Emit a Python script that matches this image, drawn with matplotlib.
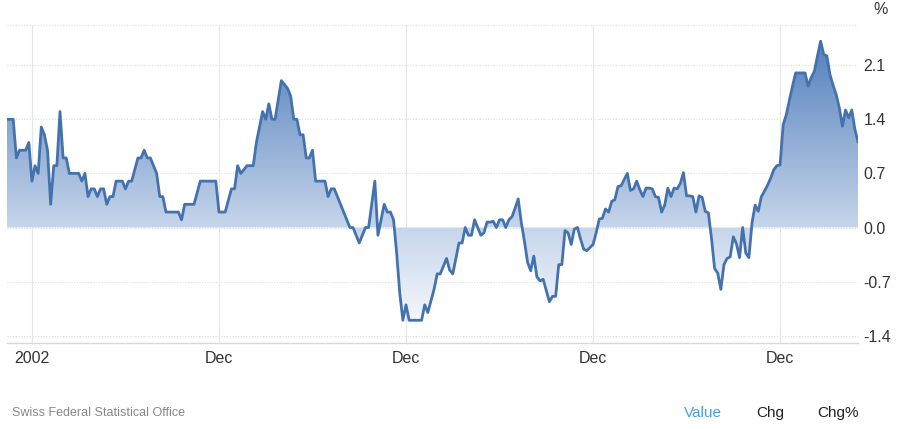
import numpy as np
import matplotlib
matplotlib.use("Agg")
import matplotlib.pyplot as plt
from matplotlib.colors import LinearSegmentedColormap
from matplotlib.patches import PathPatch
from matplotlib.path import Path

plt.rcParams['font.family'] = ['Liberation Sans', 'DejaVu Sans']

# months counted from Dec 2001 (0)
months = [-8, -6, -5, -4, -2, -1, 0, 1, 2, 3, 4, 5, 6, 7, 8, 9, 10, 11, 12, 15, 16, 17,
          18, 19, 20, 21, 22, 23, 24, 25, 26, 27, 29, 30, 31, 32, 34, 35, 36, 37, 38,
          40, 41, 42, 43, 47, 48, 49, 52, 54, 59, 60, 62, 64, 65, 66, 67, 69, 71, 72,
          73, 74, 75, 76, 77, 78, 80, 81, 82, 83, 84, 85, 86, 87, 88, 89, 90, 91, 94,
          95, 96, 97, 102, 103, 105, 107, 108, 110, 111, 113, 114, 115, 116, 117, 118,
          119, 120, 121, 125, 126, 127, 129, 130, 131, 133, 134, 135, 137, 138, 139,
          140, 141, 142, 143, 144, 145, 146, 147, 148, 149, 150, 151, 152, 153, 154,
          155, 156, 157, 158, 159, 160, 161, 162, 163, 164, 166, 167, 168, 169, 170,
          171, 172, 173, 174, 175, 176, 177, 178, 180, 181, 182, 183, 184, 185, 186,
          187, 188, 189, 190, 191, 192, 193, 194, 195, 196, 197, 198, 199, 200, 201,
          202, 203, 204, 205, 206, 207, 208, 209, 210, 211, 212, 213, 214, 215, 216,
          217, 218, 219, 220, 221, 222, 223, 224, 225, 226, 227, 228, 229, 230, 231,
          232, 233, 234, 235, 236, 237, 238, 239, 240, 241, 242, 243, 244, 245, 248,
          249, 250, 251, 252, 253, 254, 255, 256, 257, 258, 259, 260, 261, 262, 263,
          264, 265]
values = [1.4, 1.4, 0.9, 1.0, 1.0, 1.1, 0.6, 0.8, 0.7, 1.3, 1.2, 1.0, 0.3, 0.8, 0.8,
          1.5, 0.9, 0.9, 0.7, 0.7, 0.6, 0.7, 0.4, 0.5, 0.5, 0.4, 0.5, 0.5, 0.3, 0.4,
          0.4, 0.6, 0.6, 0.5, 0.6, 0.6, 0.9, 0.9, 1.0, 0.9, 0.9, 0.7, 0.4, 0.4, 0.2,
          0.2, 0.1, 0.3, 0.3, 0.6, 0.6, 0.2, 0.2, 0.5, 0.5, 0.8, 0.7, 0.8, 0.8, 1.1,
          1.3, 1.5, 1.4, 1.6, 1.4, 1.4, 1.9, 1.85, 1.8, 1.7, 1.4, 1.4, 1.2, 1.2, 0.9,
          0.9, 1.0, 0.6, 0.6, 0.4, 0.5, 0.5, 0.0, 0.0, -0.2, 0.0, 0.0, 0.6, -0.1, 0.3,
          0.2, 0.2, 0.1, -0.33, -0.85, -1.2, -1.0, -1.2, -1.2, -1.0, -1.1, -0.8, -0.6,
          -0.6, -0.4, -0.55, -0.6, -0.2, -0.2, 0.0, -0.1, -0.1, 0.1, 0.0, -0.1, -0.07,
          0.07, 0.07, 0.08, 0.0, 0.1, 0.1, 0.0, 0.1, 0.14, 0.25, 0.37, 0.06, -0.18,
          -0.45, -0.56, -0.37, -0.64, -0.69, -0.67, -0.96, -0.89, -0.89, -0.48, -0.48,
          -0.04, -0.07, -0.22, -0.02, 0.0, -0.15, -0.28, -0.3, -0.22, -0.07, 0.11,
          0.12, 0.24, 0.2, 0.34, 0.36, 0.53, 0.54, 0.62, 0.7, 0.48, 0.5, 0.6, 0.49,
          0.4, 0.51, 0.51, 0.5, 0.4, 0.39, 0.2, 0.29, 0.51, 0.4, 0.51, 0.5, 0.57, 0.71,
          0.41, 0.41, 0.4, 0.2, 0.41, 0.39, 0.21, 0.19, -0.14, -0.53, -0.59, -0.8,
          -0.48, -0.4, -0.38, -0.12, -0.21, -0.39, 0.0, -0.33, -0.39, 0.06, 0.29, 0.21,
          0.4, 0.47, 0.55, 0.64, 0.75, 0.8, 0.81, 1.33, 1.46, 1.65, 1.83, 2.0, 2.0,
          1.83, 1.94, 2.02, 2.22, 2.41, 2.24, 2.22, 1.98, 1.84, 1.72, 1.55, 1.31, 1.52,
          1.42, 1.52, 1.27, 1.11]

y_ticks = [-1.4, -0.7, 0.0, 0.7, 1.4, 2.1]
y_tick_labels = ["-1.4", "-0.7", "0.0", "0.7", "1.4", "2.1"]
x_ticks = [0, 60, 120, 180, 240]
x_tick_labels = ["2002", "Dec", "Dec", "Dec", "Dec"]
source = "Swiss Federal Statistical Office"
buttons = ["Value", "Chg", "Chg%"]

x = np.array(months, dtype=float)
y = np.array(values, dtype=float)

fig = plt.figure(figsize=(9, 4.29), dpi=100)
ax = fig.add_axes([7 / 900, 1 - 343 / 429, (858 - 7) / 900, (343 - 25) / 429])
ymin, ymax = -1.494, 2.62
xmin, xmax = -8, 265
ax.set_xlim(xmin, xmax)
ax.set_ylim(ymin, ymax)

# gradient fill between curve and zero
cmap = LinearSegmentedColormap.from_list(
    "g", [(0.0, "#ffffff"), (0.36, "#c7d6eb"), (1.0, "#4a79b9")])
grad = np.linspace(0, 1, 256).reshape(-1, 1)
im = ax.imshow(grad, extent=[xmin, xmax, ymin, ymax], origin="lower",
               aspect="auto", cmap=cmap, zorder=1)
verts = [(x[0], 0.0)] + list(zip(x, y)) + [(x[-1], 0.0), (x[0], 0.0)]
codes = [Path.MOVETO] + [Path.LINETO] * (len(verts) - 2) + [Path.CLOSEPOLY]
patch = PathPatch(Path(verts, codes), facecolor="none", edgecolor="none")
ax.add_patch(patch)
im.set_clip_path(patch)

ax.plot(x, y, color="#4472ad", lw=2.0, zorder=3, solid_joinstyle="round")

# grid
for t in y_ticks:
    ax.axhline(t, color="#dcdcdc", lw=0.8, ls=(0, (1, 1.5)), zorder=0)
ax.axhline(ymax, color="#dcdcdc", lw=0.8, ls=(0, (1, 1.5)), zorder=0)
for t in x_ticks:
    ax.axvline(t, color="#e6e6e6", lw=0.8, zorder=0)

for s in ["left", "right", "top"]:
    ax.spines[s].set_visible(False)
ax.spines["bottom"].set_color("#d8d8d8")
ax.spines["bottom"].set_linewidth(1.0)

ax.yaxis.tick_right()
ax.set_yticks(y_ticks)
ax.set_yticklabels(y_tick_labels, fontsize=11.5, color="#333333")
ax.tick_params(axis="y", length=0, pad=4)
ax.set_xticks(x_ticks)
ax.set_xticklabels(x_tick_labels, fontsize=11.5, color="#333333")
ax.tick_params(axis="x", length=0, pad=6)

fig.text(881 / 900, 1 - 10 / 429, "%", fontsize=11.5, color="#333333",
         ha="center", va="center")
fig.text(12 / 900, 1 - 413 / 429, source, fontsize=9, color="#888888",
         ha="left", va="center")
btn_x = [703, 770, 838]
btn_c = ["#4a9fd8", "#222222", "#222222"]
for bx, b, c in zip(btn_x, buttons, btn_c):
    fig.text(bx / 900, 1 - 413 / 429, b, fontsize=11, color=c,
             ha="center", va="center")

fig.savefig("out.png", dpi=100, facecolor="white")
